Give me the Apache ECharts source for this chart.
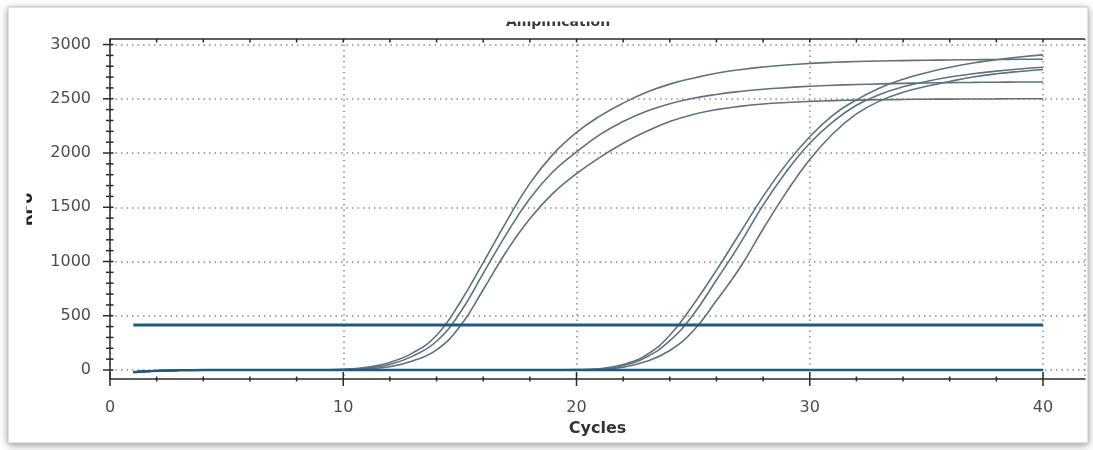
<!DOCTYPE html>
<html>
<head>
<meta charset="utf-8">
<script src="https://cdn.jsdelivr.net/npm/echarts@6/dist/echarts.min.js"></script>
<style>
  html, body { margin: 0; padding: 0; background: #ffffff; }
  #chart { width: 1093px; height: 450px; }
</style>
</head>
<body>
<div id="chart"></div>
<script>
// Amplification plot: RFU per PCR cycle for six wells plus baseline and threshold.
const cycles = [1, 2, 3, 4, 5, 6, 7, 8, 9, 10, 11, 12, 13, 14, 15, 16, 17, 18, 19, 20,
  21, 22, 23, 24, 25, 26, 27, 28, 29, 30, 31, 32, 33, 34, 35, 36, 37, 38, 39, 40];

// early group (Cq ~14-15)
const wellA = [-20, -8, -3, -1, 0, 0, 0, 0, 2, 6, 25, 70, 160, 320, 620, 990, 1370, 1720, 1990, 2190,
  2340, 2460, 2560, 2635, 2690, 2735, 2768, 2793, 2812, 2826, 2836, 2843, 2848, 2852, 2855, 2858, 2860, 2862, 2864, 2865];
const wellB = [-20, -8, -3, -1, 0, 0, 0, 0, 1, 4, 18, 50, 130, 265, 525, 890, 1255, 1580, 1830, 2010,
  2170, 2290, 2385, 2455, 2505, 2540, 2567, 2588, 2603, 2615, 2624, 2631, 2637, 2642, 2646, 2649, 2651, 2653, 2654, 2655];
const wellC = [-20, -8, -3, -1, 0, 0, 0, 0, 1, 2, 10, 30, 85, 185, 400, 740, 1095, 1395, 1630, 1810,
  1960, 2090, 2200, 2290, 2355, 2400, 2430, 2452, 2466, 2476, 2483, 2488, 2491, 2494, 2496, 2497, 2498, 2499, 2500, 2500];
// late group (Cq ~24-25)
const wellD = [-20, -8, -3, -1, 0, 0, 0, 0, 0, 0, 0, 0, 0, 0, 0, 0, 0, 0, 1, 3,
  12, 50, 140, 320, 600, 920, 1260, 1600, 1900, 2150, 2350, 2490, 2600, 2680, 2740, 2790, 2830, 2860, 2885, 2905];
const wellE = [-20, -8, -3, -1, 0, 0, 0, 0, 0, 0, 0, 0, 0, 0, 0, 0, 0, 0, 1, 2,
  8, 40, 120, 270, 510, 830, 1160, 1520, 1830, 2090, 2290, 2440, 2540, 2610, 2660, 2700, 2730, 2755, 2775, 2790];
const wellF = [-20, -8, -3, -1, 0, 0, 0, 0, 0, 0, 0, 0, 0, 0, 0, 0, 0, 0, 0, 1,
  4, 25, 80, 180, 360, 640, 940, 1300, 1640, 1940, 2180, 2360, 2480, 2560, 2615, 2660, 2700, 2730, 2752, 2770];
// flat wells and threshold
const baseline = [-20, -8, -3, -1, 0, 0, 0, 0, 0, 0, 0, 0, 0, 0, 0, 0, 0, 0, 0, 0,
  0, 0, 0, 0, 0, 0, 0, 0, 0, 0, 0, 0, 0, 0, 0, 0, 0, 0, 0, 0];
const thresholdRFU = 415;
const thresholdSpan = [1, 40];

// axis ticks and labels
const xLabels = [0, 10, 20, 30, 40];
const xGridLines = [0, 10, 20, 30, 40, 41.8];
const yLabels = [0, 500, 1000, 1500, 2000, 2500, 3000];
const xRange = [0, 41.8];
const yRange = [-83, 3051];

function steps(from, to, step) {
  const out = [];
  for (let v = from; v <= to + 1e-9; v += step) out.push(+v.toFixed(3));
  return out;
}
const xMinor = steps(0, 40, 2);
const yMinor = steps(0, 3000, 100);

const wells = [wellA, wellB, wellC, wellD, wellE, wellF];
const pairs = vals => cycles.map((c, i) => [c, vals[i]]);

const FONT = 'DejaVu Sans';
const AXIS_COLOR = '#2a2a2a';
const CURVE_COLOR = '#5f717b';
const DARK_BLUE = '#1f5a80';

const chart = echarts.init(document.getElementById('chart'), null, { renderer: 'canvas' });

function tickLine(x1, y1, x2, y2) {
  return { type: 'line', shape: { x1, y1, x2, y2 },
    style: { stroke: AXIS_COLOR, lineWidth: 1.5 } };
}

const xTickData = xMinor.map(v => [v, yRange[0], xLabels.indexOf(v) >= 0 ? 1 : 0]);
const yTickData = yMinor.map(v => [xRange[0], v, yLabels.indexOf(v) >= 0 ? 1 : 0]);
const topTickData = xMinor.map(v => [v, yRange[1]]);

const option = {
  animation: false,
  backgroundColor: '#ffffff',
  grid: { left: 110, right: 8, top: 39, bottom: 71, containLabel: false },
  xAxis: {
    type: 'value', position: 'bottom', min: xRange[0], max: xRange[1],
    axisLine: { show: true, onZero: false, lineStyle: { color: AXIS_COLOR, width: 1.5 } },
    axisTick: { show: false, customValues: xGridLines },
    axisLabel: { customValues: xLabels, margin: 21, fontFamily: FONT, fontSize: 16, color: '#4d4d4d' },
    splitLine: { show: true, lineStyle: { type: [1.5, 4], color: '#8c8c8c', width: 1.5 } },
    name: 'Cycles', nameLocation: 'middle', nameGap: 41,
    nameTextStyle: { fontFamily: FONT, fontWeight: 'bold', fontSize: 16, color: '#333333' }
  },
  yAxis: {
    type: 'value', position: 'left', min: yRange[0], max: yRange[1],
    axisLine: { show: true, onZero: false, lineStyle: { color: AXIS_COLOR, width: 1.5 } },
    axisTick: { show: false, customValues: yLabels },
    axisLabel: { customValues: yLabels, margin: 19, fontFamily: FONT, fontSize: 16, color: '#4d4d4d',
      formatter: v => String(v) },
    splitLine: { show: true, lineStyle: { type: [1.5, 4], color: '#8c8c8c', width: 1.5 } },
    name: 'RFU', nameLocation: 'middle', nameGap: 74,
    nameTextStyle: { fontFamily: FONT, fontWeight: 'bold', fontSize: 15, color: '#222222' }
  },
  series: [
    ...wells.map((w, i) => ({
      name: 'Well ' + 'ABCDEF'[i], type: 'line', data: pairs(w),
      smooth: 0.45, showSymbol: false, z: 2,
      lineStyle: { color: CURVE_COLOR, width: 1.6 }
    })),
    {
      name: 'Baseline', type: 'line', data: pairs(baseline), smooth: 0.3, showSymbol: false, z: 3,
      lineStyle: { color: DARK_BLUE, width: 2.5 }
    },
    {
      name: 'Threshold', type: 'line', data: thresholdSpan.map(c => [c, thresholdRFU]),
      showSymbol: false, z: 4, lineStyle: { color: DARK_BLUE, width: 3 }
    },
    // bottom axis ticks: long at labelled cycles, short every 2 cycles
    {
      type: 'custom', name: 'x ticks', data: xTickData, clip: false, silent: true, z: 5,
      encode: { x: 0, y: 1 },
      renderItem: (params, api) => {
        const p = api.coord([api.value(0), api.value(1)]);
        const h = api.value(2) ? 7 : 2.5;
        return tickLine(p[0], p[1] - h, p[0], p[1] + h);
      }
    },
    // left axis ticks: long at labelled RFU, short every 100
    {
      type: 'custom', name: 'y ticks', data: yTickData, clip: false, silent: true, z: 5,
      encode: { x: 0, y: 1 },
      renderItem: (params, api) => {
        const p = api.coord([api.value(0), api.value(1)]);
        const left = api.value(2) ? 7 : 4;
        return tickLine(p[0] - left, p[1], p[0] + 3.5, p[1]);
      }
    },
    // top edge of the plot with inward ticks
    {
      type: 'custom', name: 'top edge', data: topTickData, clip: false, silent: true, z: 5,
      encode: { x: 0, y: 1 },
      renderItem: (params, api) => {
        const p = api.coord([api.value(0), api.value(1)]);
        const children = [tickLine(p[0], p[1], p[0], p[1] + 3.5)];
        if (params.dataIndex === 0) {
          const a = api.coord([xRange[0], yRange[1]]);
          const b = api.coord([xRange[1], yRange[1]]);
          children.push(tickLine(a[0], a[1], b[0], b[1]));
        }
        return { type: 'group', children };
      }
    }
  ],
  graphic: [
    // panel: shadowed fill, then a plain outline
    { type: 'rect', z: -100, silent: true,
      shape: { x: 8, y: 7, width: 1080, height: 436 },
      style: { fill: '#ffffff', shadowBlur: 8, shadowColor: 'rgba(0,0,0,0.45)',
        shadowOffsetX: 0, shadowOffsetY: 2 } },
    { type: 'rect', z: -99, silent: true,
      shape: { x: 8, y: 7, width: 1080, height: 436 },
      style: { fill: null, stroke: '#c4c4c4', lineWidth: 1 } },
    // chart title, its upper half hidden under the panel header
    { type: 'text', z: 50, silent: true, x: 558, y: 22.2,
      style: { text: 'Amplification', font: 'bold 14px "DejaVu Sans"', fill: '#3a3a3a',
        align: 'center', verticalAlign: 'middle' } },
    { type: 'rect', z: 60, silent: true, shape: { x: 480, y: 10, width: 160, height: 11.5 },
      style: { fill: '#ffffff' } },
    { type: 'rect', z: 60, silent: true, shape: { x: 10, y: 170, width: 16.5, height: 80 },
      style: { fill: '#ffffff' } }
  ]
};

chart.setOption(option);
</script>
</body>
</html>
